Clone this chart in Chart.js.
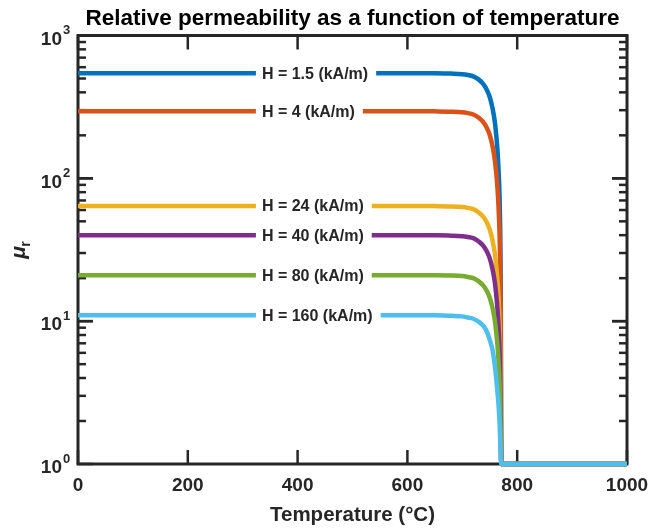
<!DOCTYPE html>
<html lang="en">
<head>
<meta charset="UTF-8">
<title>Relative permeability</title>
<script src="https://cdn.jsdelivr.net/npm/chart.js"></script>
<style>
	body { margin: 0; background: #fff; }
	#wrap { width: 650px; height: 531px; }
</style>
</head>
<body>
<div id="wrap"><canvas id="myChart"></canvas></div>
<script>
// temperature in degC
const temps = [0, 100, 200, 300, 400, 500, 600, 650, 680, 700, 710, 720, 730, 738, 745, 750, 755, 758, 760, 762, 764, 766, 768, 769, 770, 771, 800, 900, 1000];

// relative permeability, one array per field strength
const mu_h1_5 = [545, 545, 545, 545, 545, 545, 545, 544, 541, 536, 529, 518, 491, 458, 414, 371, 311, 268, 235, 197, 159, 115, 72, 44.5, 17.3, 1, 1, 1, 1];
const mu_h4   = [295, 295, 295, 295, 295, 295, 295, 294.4, 293, 290, 286, 280, 265.6, 248, 224, 201, 168.6, 145, 127.4, 106.8, 86.3, 62.7, 39.2, 24.5, 9.8, 1, 1, 1, 1];
const mu_h24  = [64, 64, 64, 64, 64, 64, 64, 63.9, 63.6, 62.9, 62.1, 60.9, 57.7, 53.9, 48.9, 43.8, 36.9, 31.9, 28.1, 23.7, 19.3, 14.2, 9.2, 6.0, 2.9, 1, 1, 1, 1];
const mu_h40  = [40, 40, 40, 40, 40, 40, 40, 39.9, 39.7, 39.3, 38.8, 38.1, 36.1, 33.8, 30.6, 27.5, 23.2, 20.1, 17.8, 15.0, 12.3, 9.2, 6.1, 4.1, 2.2, 1, 1, 1, 1];
const mu_h80  = [21, 21, 21, 21, 21, 21, 21, 21, 20.9, 20.7, 20.4, 20, 19, 17.8, 16.2, 14.6, 12.4, 10.8, 9.6, 8.2, 6.8, 5.2, 3.6, 2.6, 1.6, 1, 1, 1, 1];
const mu_h160 = [11, 11, 11, 11, 11, 11, 11, 11, 10.9, 10.8, 10.6, 10.4, 9.9, 9.3, 8.4, 7.4, 6.3, 5.3, 4.6, 3.9, 3.2, 2.6, 1.9, 1.5, 1.15, 1, 1, 1, 1];

const seriesLabels = ['H = 1.5 (kA/m)', 'H = 4 (kA/m)', 'H = 24 (kA/m)', 'H = 40 (kA/m)', 'H = 80 (kA/m)', 'H = 160 (kA/m)'];
const seriesData = [mu_h1_5, mu_h4, mu_h24, mu_h40, mu_h80, mu_h160];
const colors = ['#0072BD', '#D95319', '#EDB120', '#7E2F8E', '#77AC30', '#4DBEEE'];

const xTicks = [0, 200, 400, 600, 800, 1000];
const yTicks = [1, 10, 100, 1000];
const yTickExp = ['0', '1', '2', '3'];

const LABEL_T = 335; // where the inline labels start
const FONT = '"Liberation Sans", Arial, Helvetica, sans-serif';
const axisColor = '#262626';

function seg(ctx, x1, y1, x2, y2) {
	ctx.beginPath();
	ctx.moveTo(x1, y1);
	ctx.lineTo(x2, y2);
	ctx.stroke();
}

// matlab style box with inward ticks on all four sides
const boxPlugin = {
	id: 'matlabBox',
	beforeDatasetsDraw(chart) {
		const {ctx, chartArea: a, scales: {x, y}} = chart;
		ctx.save();
		ctx.strokeStyle = axisColor;
		ctx.lineWidth = 3;
		ctx.strokeRect(a.left, a.top, a.right - a.left, a.bottom - a.top);
		ctx.lineWidth = 2.5;
		xTicks.forEach(v => {
			const px = x.getPixelForValue(v);
			seg(ctx, px, a.bottom, px, a.bottom - 14);
			seg(ctx, px, a.top, px, a.top + 14);
		});
		for (let d = 1; d < 1000; d *= 10) {
			for (let k = 1; k <= 10; k++) {
				const v = d * k;
				const py = y.getPixelForValue(v);
				const len = (k === 1 || k === 10) ? 15 : 8;
				seg(ctx, a.left, py, a.left + len, py);
				seg(ctx, a.right, py, a.right - len, py);
			}
		}
		// y tick labels 10^n
		ctx.fillStyle = axisColor;
		yTicks.forEach((v, i) => {
			const py = y.getPixelForValue(v);
			ctx.font = 'bold 19px ' + FONT;
			ctx.textAlign = 'right';
			ctx.textBaseline = 'middle';
			ctx.fillText('10', 62, py + 4);
			ctx.font = 'bold 13px ' + FONT;
			ctx.textAlign = 'left';
			ctx.fillText(yTickExp[i], 63, py - 5);
		});
		// y title: mu_r
		ctx.save();
		ctx.translate(19, (a.top + a.bottom) / 2);
		ctx.rotate(-Math.PI / 2);
		ctx.textBaseline = 'middle';
		ctx.textAlign = 'left';
		ctx.font = 'italic bold 21px ' + FONT;
		ctx.fillText('\u03bc', -9, 0);
		ctx.font = 'bold 14px ' + FONT;
		ctx.fillText('r', 3, 7);
		ctx.restore();
		ctx.restore();
	},
	afterDatasetsDraw(chart) {
		const {ctx, scales: {x, y}} = chart;
		ctx.save();
		ctx.font = 'bold 16px ' + FONT;
		ctx.textBaseline = 'middle';
		ctx.textAlign = 'left';
		seriesData.forEach((d, i) => {
			const px = x.getPixelForValue(LABEL_T);
			const py = y.getPixelForValue(d[0]);
			const w = ctx.measureText(seriesLabels[i]).width;
			ctx.fillStyle = '#fff';
			ctx.fillRect(px - 6, py - 10, w + 14, 20);
			ctx.fillStyle = axisColor;
			ctx.fillText(seriesLabels[i], px, py + 1);
		});
		ctx.restore();
	}
};

const ctx = document.getElementById('myChart');

new Chart(ctx, {
	type: 'line',
	data: {
		datasets: seriesData.map((d, i) => ({
			label: seriesLabels[i],
			data: temps.map((t, j) => ({x: t, y: d[j]})),
			borderColor: colors[i],
			borderWidth: 4.5,
			pointRadius: 0,
			cubicInterpolationMode: 'monotone',
			clip: false,
			order: seriesData.length - i
		}))
	},
	options: {
		responsive: true,
		maintainAspectRatio: false,
		animation: false,
		// left room holds the hand-drawn 10^n labels, so the title centres over the axes
		layout: { padding: { left: 78, right: 23, top: 0, bottom: 0 } },
		plugins: {
			legend: { display: false },
			tooltip: { enabled: false },
			title: {
				display: true,
				text: 'Relative permeability as a function of temperature',
				color: '#000',
				font: { family: FONT, size: 22.5, weight: 'bold' },
				padding: { top: 5, bottom: 3.5 }
			}
		},
		scales: {
			x: {
				type: 'linear',
				min: 0,
				max: 1000,
				afterBuildTicks: s => { s.ticks = xTicks.map(v => ({value: v})); },
				afterFit: s => { s.height = 67; s.paddingRight = 0; s.paddingLeft = 0; },
				grid: { display: false, drawTicks: false },
				border: { display: false },
				ticks: {
					color: axisColor,
					padding: 10,
					maxRotation: 0,
					callback: v => String(v),
					font: { family: FONT, size: 19, weight: 'bold' }
				},
				title: {
					display: true,
					text: 'Temperature (\u00b0C)',
					color: axisColor,
					font: { family: FONT, size: 20.5, weight: 'bold' },
					padding: { top: 4, bottom: 3 }
				}
			},
			y: {
				type: 'logarithmic',
				min: 1,
				max: 1000,
				afterFit: s => { s.width = 0; },
				grid: { display: false, drawTicks: false },
				border: { display: false },
				ticks: { display: false }
			}
		}
	},
	plugins: [boxPlugin]
});
</script>
</body>
</html>
